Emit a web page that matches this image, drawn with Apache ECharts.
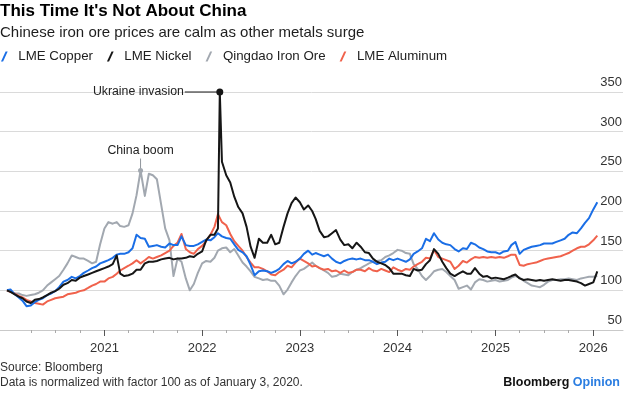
<!DOCTYPE html>
<html>
<head>
<meta charset="utf-8">
<script src="https://cdn.jsdelivr.net/npm/echarts@6/dist/echarts.min.js"></script>
<style>
  html, body { margin: 0; padding: 0; background: #fff; }
  #chart { width: 624px; height: 398px; }
</style>
</head>
<body>
<div id="chart"></div>
<script>
const FONT = '"Liberation Sans", Arial, sans-serif'

// ---- data (index: 100 = 3 Jan 2020) ----
const seriesNames = ['LME Copper', 'LME Nickel', 'Qingdao Iron Ore', 'LME Aluminum']
const seriesColors = ['#1a6ee6', '#161616', '#a2a8b0', '#f0624c']
const yTicks = { min: 50, max: 350, step: 50 }
const yearTicks = [2021, 2022, 2023, 2024, 2025, 2026]

// half-monthly readings, 3 Jan 2020 .. 16 Jan 2026 (146 points)
const copper = [
  100, 101, 95, 91, 87, 80, 81, 85, 88, 90,
  94, 96, 99, 104, 111, 113, 117, 115, 118, 122,
  125, 128, 130, 134, 136, 138, 141, 145, 146, 146,
  148, 153, 170, 166, 165, 155, 156, 157, 155, 154,
  159, 157, 157, 168, 157, 156, 156, 158, 161, 164,
  163, 167, 172, 168, 166, 165, 158, 151, 148, 143,
  132, 119, 124, 125, 124, 122, 124, 127, 133, 137,
  134, 136, 140, 146, 150, 145, 147, 145, 143, 145,
  140, 136, 134, 137, 139, 140, 139, 140, 138, 138,
  136, 133, 135, 136, 140, 138, 140, 138, 136, 139,
  146, 149, 153, 165, 162, 172, 164, 160, 158, 157,
  152, 149, 153, 152, 160, 158, 154, 152, 149, 148,
  148, 146, 149, 150, 157, 161, 146, 151, 153, 155,
  156, 157, 159, 159, 159, 161, 163, 165, 170, 173,
  172, 178, 185, 191, 202, 211
]
const nickel = [
  100, 98, 95, 92, 90, 86, 84, 88, 89, 91,
  94, 97, 99, 102, 107, 109, 113, 112, 116, 118,
  120, 122, 124, 126, 128, 130, 133, 144, 121, 118,
  119, 121, 126, 126, 134, 136, 136, 137, 139, 140,
  141, 139, 140, 140, 141, 143, 142, 146, 149, 163,
  170, 170, 178, 262, 245, 236, 218, 205, 197, 180,
  155, 141, 165, 160, 160, 170, 158, 160, 180, 197,
  210, 217, 211, 202, 207, 200, 190, 175, 167, 168,
  172, 176, 164, 157, 158, 153, 160, 155, 148, 147,
  140, 136, 134, 132, 128, 121, 121, 121, 119, 118,
  127, 125, 126, 133, 138, 152, 146, 136, 128, 121,
  118, 121, 124, 121, 121, 128, 121, 117, 118, 115,
  116, 115, 114, 116, 118, 120, 115, 113, 114, 113,
  112, 113, 112, 113, 114, 113, 112, 113, 113, 112,
  111, 109, 106, 108, 110, 124
]
const nickelSpike = { date: [2022, 2, 8], value: 350 }   // LME squeeze, 8 Mar 2022
const ironOre = [
  100, 99, 96, 96, 94, 93, 94, 95, 97, 100,
  106, 110, 114, 118, 126, 134, 144, 142, 140, 140,
  137, 134, 136, 158, 178, 186, 184, 186, 181, 180,
  182, 197, 220, 251, 219, 247, 245, 240, 208, 178,
  163, 118, 140, 136, 115, 100, 108, 122, 134, 137,
  136, 141, 150, 153, 154, 148, 152, 144, 135, 130,
  124, 117, 115, 113, 114, 112, 112, 106, 95, 101,
  110, 118, 125, 127, 131, 135, 131, 128, 125, 122,
  117, 118, 121, 120, 119, 123, 126, 128, 131, 134,
  136, 137, 138, 142, 144, 147, 151, 150, 147, 146,
  133, 127, 118, 113, 118, 124, 126, 127, 123, 118,
  113, 102, 104, 106, 101, 110, 114, 113, 111, 112,
  113, 111, 112, 113, 116, 118, 116, 112, 109, 106,
  105, 104, 107, 111, 113, 113, 114, 114, 115, 114,
  113, 115, 116, 117, 117, 118
]
const aluminum = [
  100, 98, 96, 93, 91, 88, 86, 84, 83, 82,
  86, 88, 90, 91, 92, 95, 96, 97, 99, 100,
  103, 106, 108, 111, 111, 115, 117, 121, 125, 128,
  131, 134, 138, 134, 138, 142, 140, 142, 144, 147,
  150, 156, 160, 171, 152, 148, 146, 152, 156, 162,
  170, 180, 196, 186, 182, 171, 162, 156, 150, 142,
  135, 129, 129, 127, 124, 120, 119, 123, 126, 131,
  129, 135, 140, 137, 134, 130, 131, 128, 126, 127,
  124, 125, 122, 125, 122, 123, 126, 126, 124, 128,
  125, 124, 127, 125, 123, 129, 126, 124, 127, 126,
  130, 133, 136, 141, 140, 151, 142, 140, 138, 136,
  127, 131, 137, 135, 139, 142, 141, 142, 141, 142,
  141, 142, 141, 143, 145, 145, 132, 131, 133, 134,
  135, 137, 139, 140, 141, 142, 143, 145, 147, 150,
  153, 155, 155, 158, 163, 169
]

// observation dates: 1st and 16th of each month (first one is 3 Jan 2020)
let dates = []
for (let i = 0; i < copper.length; i++) {
  let y = 2020 + Math.floor(i / 24)
  let m = Math.floor(i / 2) % 12
  let d = i === 0 ? 3 : (i % 2 ? 16 : 1)
  dates.push(Date.UTC(y, m, d))
}

const xMin = Date.UTC(2019, 11, 8)
const xMax = Date.UTC(2026, 3, 22)
let yearValues = yearTicks.map(y => Date.UTC(y, 0, 1))
let quarterValues = []
for (let y = 2020; y <= 2025; y++) {
  [3, 6, 9].forEach(m => quarterValues.push(Date.UTC(y, m, 1)))
}

function pairs(values) {
  return values.map((v, i) => [dates[i], v])
}
let spikeTs = Date.UTC(...nickelSpike.date)
let nickelData = pairs(nickel).concat([[spikeTs, nickelSpike.value]]).sort((a, b) => a[0] - b[0])
let ironPeak = ironOre.indexOf(Math.max(...ironOre))

let chart = echarts.init(document.getElementById('chart'))

function line(name, data, z) {
  let c = seriesColors[seriesNames.indexOf(name)]
  return {
    name: name,
    type: 'line',
    data: data,
    z: z,
    showSymbol: false,
    symbol: 'none',
    color: c,
    itemStyle: { color: c },
    lineStyle: { color: c, width: 2, join: 'round' },
    emphasis: { disabled: true },
    animation: false
  }
}

let option = {
  animation: false,
  textStyle: { fontFamily: FONT },
  title: [
    { text: "This Time It's Not About China", left: 0, top: 1, padding: 0,
      textStyle: { fontSize: 17, fontWeight: 'bold', color: '#000', lineHeight: 20, fontFamily: FONT } },
    { text: 'Chinese iron ore prices are calm as other metals surge', left: 0, top: 24, padding: 0,
      textStyle: { fontSize: 15, fontWeight: 'normal', color: '#1e1e1e', lineHeight: 18, fontFamily: FONT } },
    { text: 'Source: Bloomberg', left: 0, top: 360, padding: 0,
      textStyle: { fontSize: 12, fontWeight: 'normal', color: '#333', lineHeight: 15, fontFamily: FONT } },
    { text: 'Data is normalized with factor 100 as of January 3, 2020.', left: 0, top: 375, padding: 0,
      textStyle: { fontSize: 12, fontWeight: 'normal', color: '#333', lineHeight: 15, fontFamily: FONT } },
    { text: '{b|Bloomberg} {o|Opinion}', right: 4, top: 375, padding: 0,
      textStyle: { fontSize: 12.5, fontWeight: 'bold', lineHeight: 15, fontFamily: FONT,
        rich: {
          b: { fontSize: 12.5, fontWeight: 'bold', color: '#111', fontFamily: FONT },
          o: { fontSize: 12.5, fontWeight: 'bold', color: '#2a7de1', fontFamily: FONT }
        } } }
  ],
  legend: {
    data: seriesNames,
    left: 1,
    top: 50,
    padding: 0,
    icon: 'path://M0,12L5.5,0L8,0L2.5,12Z',
    itemWidth: 8,
    itemHeight: 10,
    itemGap: 14,
    selectedMode: false,
    textStyle: { fontSize: 13.3, color: '#222', fontFamily: FONT, padding: [0, 0, 0, 5] }
  },
  grid: { left: 0, right: 1, top: 92, bottom: 68, containLabel: false, outerBoundsMode: 'none' },
  xAxis: [{
    type: 'value',
    min: xMin,
    max: xMax,
    axisLine: { show: true, lineStyle: { color: '#c9c9c9', width: 1 } },
    axisTick: { show: true, customValues: yearValues, length: 6, lineStyle: { color: '#555', width: 1 } },
    axisLabel: {
      customValues: yearValues,
      margin: 12,
      fontSize: 13,
      color: '#333',
      fontFamily: FONT,
      formatter: v => String(new Date(v).getUTCFullYear())
    },
    splitLine: { show: false }
  }, {
    type: 'value',
    min: xMin,
    max: xMax,
    position: 'bottom',
    axisLine: { show: false },
    axisTick: { show: true, customValues: quarterValues, length: 3, lineStyle: { color: '#aaa', width: 1 } },
    axisLabel: { show: false },
    splitLine: { show: false }
  }],
  yAxis: {
    type: 'value',
    position: 'right',
    min: yTicks.min,
    max: yTicks.max,
    interval: yTicks.step,
    axisLine: { show: false },
    axisTick: { show: false },
    axisLabel: {
      inside: true,
      align: 'right',
      verticalAlign: 'bottom',
      margin: 1,
      padding: [0, 0, 3, 0],
      fontSize: 13,
      color: '#333',
      fontFamily: FONT
    },
    splitLine: { show: true, lineStyle: { color: '#dadada', width: 1 } }
  },
  series: [
    line('Qingdao Iron Ore', pairs(ironOre), 1),
    line('LME Aluminum', pairs(aluminum), 2),
    line('LME Copper', pairs(copper), 3),
    line('LME Nickel', nickelData, 4)
  ]
}
chart.setOption(option)

// annotations, placed from the data through the axes
let sp = chart.convertToPixel({ xAxisIndex: 0, yAxisIndex: 0 }, [spikeTs, nickelSpike.value])
let cp = chart.convertToPixel({ xAxisIndex: 0, yAxisIndex: 0 }, [dates[ironPeak], ironOre[ironPeak]])
chart.setOption({
  graphic: [
    { type: 'line', id: 'ukLine', z: 10, shape: { x1: sp[0] - 35, y1: sp[1], x2: sp[0], y2: sp[1] },
      style: { stroke: '#1a1a1a', lineWidth: 1 } },
    { type: 'circle', id: 'ukDot', z: 11, shape: { cx: sp[0], cy: sp[1], r: 3.5 }, style: { fill: '#161616' } },
    { type: 'text', id: 'ukText', z: 11, style: { text: 'Ukraine invasion', x: sp[0] - 36, y: sp[1],
      align: 'right', verticalAlign: 'middle', textAlign: 'right', textVerticalAlign: 'middle',
      font: '12.3px ' + FONT, fill: '#222' } },
    { type: 'line', id: 'cbLine', z: 10, shape: { x1: cp[0], y1: cp[1], x2: cp[0], y2: cp[1] - 12 },
      style: { stroke: '#8f959c', lineWidth: 1 } },
    { type: 'circle', id: 'cbDot', z: 11, shape: { cx: cp[0], cy: cp[1], r: 2.5 }, style: { fill: '#a2a8b0' } },
    { type: 'text', id: 'cbText', z: 11, style: { text: 'China boom', x: cp[0], y: cp[1] - 20,
      align: 'center', verticalAlign: 'middle', textAlign: 'center', textVerticalAlign: 'middle',
      font: '12.3px ' + FONT, fill: '#222' } }
  ]
})
</script>
</body>
</html>
